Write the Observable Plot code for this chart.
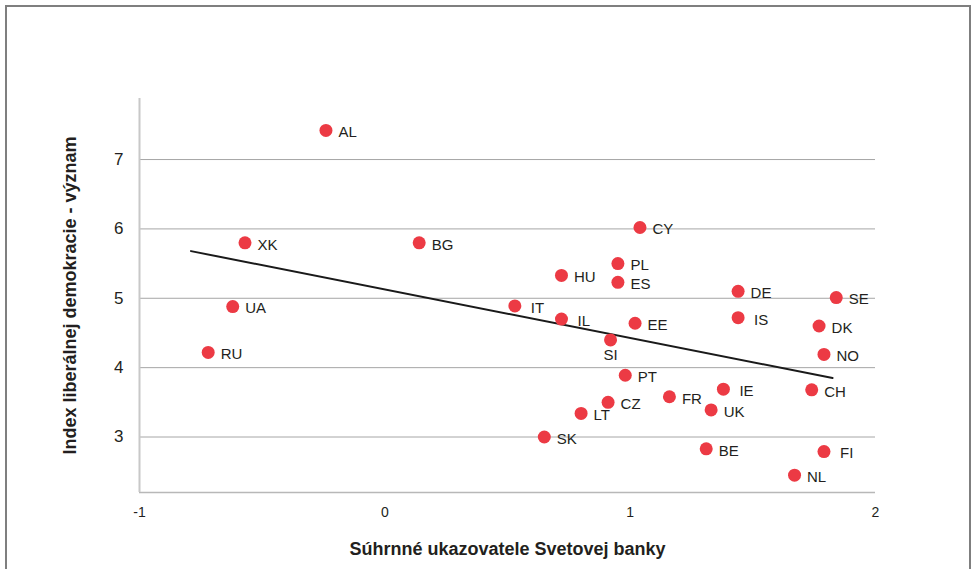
<!DOCTYPE html>
<html>
<head>
<meta charset="utf-8">
<script src="https://cdn.jsdelivr.net/npm/d3@7"></script>
<script src="https://cdn.jsdelivr.net/npm/@observablehq/plot@0.6"></script>
<style>
  html, body { margin: 0; padding: 0; background: #fff; }
  #wrap { position: relative; width: 975px; height: 569px; overflow: hidden; background: #fff; }
  #border { position: absolute; left: 5px; top: 5px; width: 962px; height: 620px;
            border: 2px solid #7f7f7f; border-bottom: none; pointer-events: none; }
</style>
</head>
<body>
<div id="wrap"><div id="border"></div></div>
<script>
// Country codes
const codes = ["AL","XK","BG","UA","RU","CY","PL","HU","ES","DE","SE","IT","IL","EE","IS","DK","SI","NO","PT","IE","CH","FR","CZ","UK","LT","SK","BE","FI","NL"];
// Súhrnné ukazovatele Svetovej banky (x)
const wbIndicators = [-0.24,-0.57,0.14,-0.62,-0.72,1.04,0.95,0.72,0.95,1.44,1.84,0.53,0.72,1.02,1.44,1.77,0.92,1.79,0.98,1.38,1.74,1.16,0.91,1.33,0.80,0.65,1.31,1.79,1.67];
// Index liberálnej demokracie - význam (y)
const libDemIndex = [7.42,5.80,5.80,4.88,4.22,6.02,5.50,5.33,5.23,5.10,5.01,4.89,4.70,4.64,4.72,4.60,4.40,4.19,3.89,3.69,3.68,3.58,3.50,3.39,3.34,3.00,2.83,2.79,2.45];
// Trend line end points
const trendX = [-0.79, 1.825];
const trendY = [5.68, 3.85];
// Tick labels
const xTicks = [-1, 0, 1, 2];
const xTickLabels = ["-1", "0", "1", "2"];
const yTicks = [3, 4, 5, 6, 7];
const yTickLabels = ["3", "4", "5", "6", "7"];
const xTitle = "Súhrnné ukazovatele Svetovej banky";
const yTitle = "Index liberálnej demokracie - význam";

const data = codes.map((c, i) => ({code: c, x: wbIndicators[i], y: libDemIndex[i]}));
const trend = trendX.map((x, i) => ({x, y: trendY[i]}));

const below = new Set(["SI"]);
const wide = new Set(["IT", "IL", "IS", "FI", "IE"]);

const font = "'Liberation Sans', Arial, Helvetica, sans-serif";
const red = "#ec3a44";
const ink = "#231f20";

const chart = Plot.plot({
  width: 975,
  height: 569,
  marginLeft: 139,
  marginRight: 100,
  marginTop: 98,
  marginBottom: 77,
  style: {fontFamily: font, background: "transparent", color: ink},
  x: {domain: [-1, 2]},
  y: {domain: [2.2, 7.88]},
  marks: [
    Plot.ruleY(yTicks, {stroke: "#a6a6a6", strokeWidth: 1}),
    Plot.ruleY([2.2], {stroke: "#b8b8b8", strokeWidth: 1.5}),
    Plot.ruleX([-1], {stroke: "#c8c8c8", strokeWidth: 2}),
    Plot.axisY({ticks: yTicks, tickFormat: (d, i) => yTickLabels[yTicks.indexOf(d)], tickSize: 0, tickPadding: 16, fontSize: 17, label: null, fill: ink}),
    Plot.axisX({ticks: xTicks, tickFormat: (d) => xTickLabels[xTicks.indexOf(d)], tickSize: 0, tickPadding: 15, fontSize: 14, label: null, fill: ink}),
    Plot.line(trend, {x: "x", y: "y", stroke: "#1a1a1a", strokeWidth: 2}),
    Plot.dot(data, {x: "x", y: "y", r: 6.5, fill: red, stroke: "none"}),
    Plot.text(data.filter(d => !below.has(d.code)), {
      x: "x", y: "y", text: "code",
      dy: 2,
      textAnchor: "start", lineAnchor: "middle",
      fontSize: 15, fill: ink
    }),
    Plot.text(data.filter(d => below.has(d.code)), {
      x: "x", y: "y", text: "code", dy: 15,
      textAnchor: "middle", lineAnchor: "middle",
      fontSize: 15, fill: ink
    }),
    Plot.text([xTitle], {
      text: d => d, frameAnchor: "bottom", dy: 57,
      textAnchor: "middle", lineAnchor: "middle",
      fontSize: 18, fontWeight: "bold", fill: ink
    }),
    Plot.text([yTitle], {
      text: d => d, frameAnchor: "left", dx: -69, rotate: -90,
      textAnchor: "middle", lineAnchor: "middle",
      fontSize: 18, fontWeight: "bold", fill: ink
    })
  ]
});

document.getElementById("wrap").prepend(chart);

// horizontal gap between dot and its label (style only)
const labelGroups = chart.querySelectorAll("g[aria-label='text']");
if (labelGroups.length) {
  labelGroups[0].querySelectorAll("text").forEach(t => {
    const gap = wide.has(t.textContent) ? 16 : 12.5;
    const tr = t.getAttribute("transform") || "";
    t.setAttribute("transform", tr + ` translate(${gap},0)`);
  });
}
</script>
</body>
</html>
